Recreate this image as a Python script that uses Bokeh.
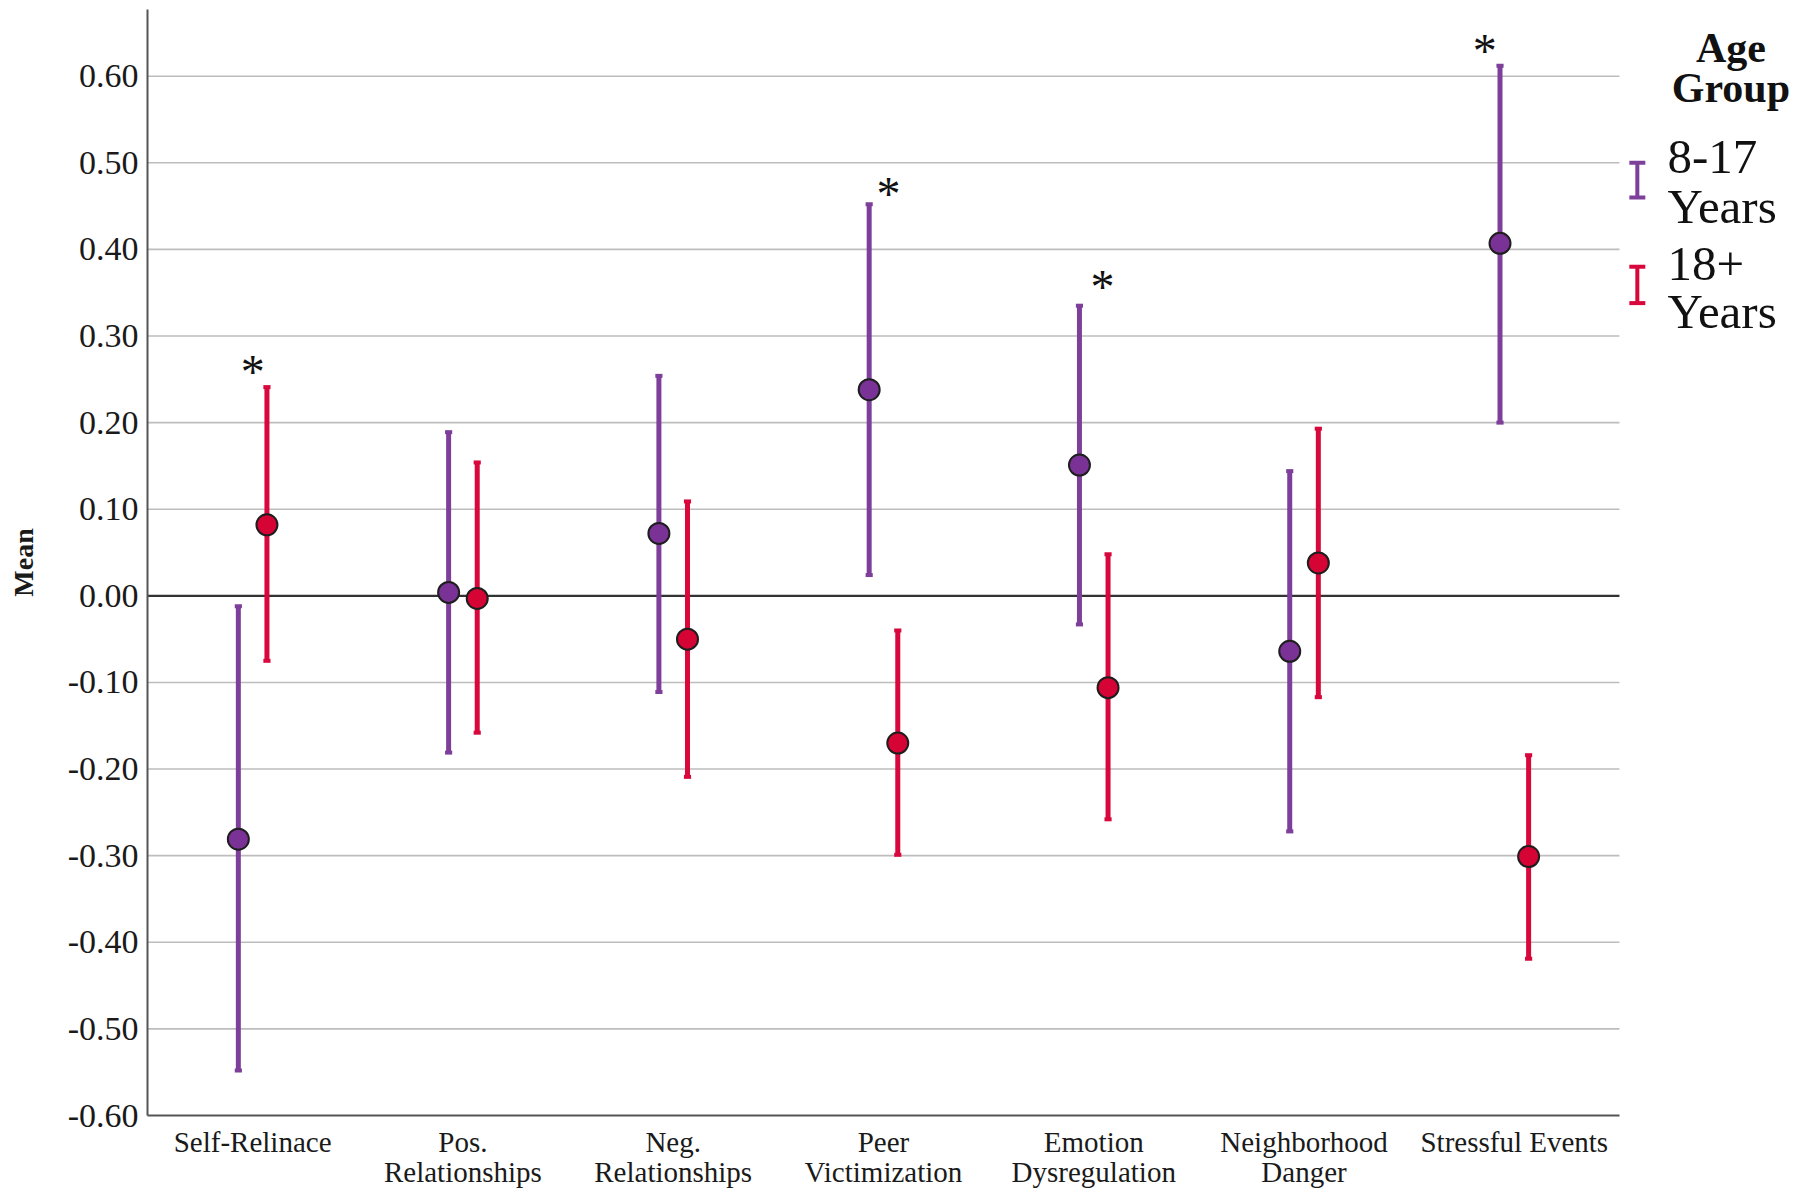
from bokeh.plotting import figure
from bokeh.models import Range1d, FixedTicker
from bokeh.core.properties import value
from bokeh.embed import file_html
from bokeh.resources import INLINE

# ---------------- data ----------------
categories = ["Self-Relinace", "Pos.\nRelationships", "Neg.\nRelationships",
              "Peer\nVictimization", "Emotion\nDysregulation", "Neighborhood\nDanger",
              "Stressful Events"]
groups = ["8-17\nYears", "18+\nYears"]

mean_young = [-0.281, 0.004, 0.072, 0.238, 0.151, -0.064, 0.407]
lower_young = [-0.548, -0.181, -0.111, 0.024, -0.033, -0.272, 0.200]
upper_young = [-0.012, 0.189, 0.254, 0.452, 0.335, 0.144, 0.612]

mean_adult = [0.082, -0.003, -0.050, -0.170, -0.106, 0.038, -0.301]
lower_adult = [-0.075, -0.158, -0.209, -0.299, -0.258, -0.117, -0.419]
upper_adult = [0.241, 0.154, 0.109, -0.040, 0.048, 0.193, -0.184]

# significance markers: category index, x offset, y value
sig_index = [0, 3, 4, 6]
sig_offset = [0.0, 0.024, 0.041, -0.14]
sig_y = [0.266, 0.472, 0.364, 0.637]

y_ticks = [-0.6, -0.5, -0.4, -0.3, -0.2, -0.1, 0.0, 0.1, 0.2, 0.3, 0.4, 0.5, 0.6]
y_tick_labels = ["-0.60", "-0.50", "-0.40", "-0.30", "-0.20", "-0.10", "0.00",
                 "0.10", "0.20", "0.30", "0.40", "0.50", "0.60"]

# ---------------- style ----------------
PURPLE_LINE = "#7E3F9B"
PURPLE_FILL = "#7A3296"
RED_LINE = "#D8073C"
RED_FILL = "#D60335"
SERIF = "Liberation Serif"
DODGE = 0.068
CAP = 0.017

n = len(categories)

p = figure(width=1800, height=1190, x_range=Range1d(0, 7.861), y_range=Range1d(-0.6, 0.677),
           output_backend="svg", toolbar_location=None,
           min_border_left=147, min_border_right=0, min_border_top=9, min_border_bottom=74)
p.outline_line_color = None
p.xgrid.visible = False
p.ygrid.visible = False
p.background_fill_color = "white"
p.border_fill_color = "white"

# y axis
p.yaxis.ticker = FixedTicker(ticks=y_ticks)
p.yaxis.major_label_overrides = {t: l for t, l in zip(y_ticks, y_tick_labels)}
p.yaxis.axis_line_color = "#555555"
p.yaxis.axis_line_width = 2
p.yaxis.major_tick_line_color = None
p.yaxis.minor_tick_line_color = None
p.yaxis.major_label_text_font = SERIF
p.yaxis.major_label_text_font_size = "34px"
p.yaxis.major_label_text_color = "#1a1a1a"
p.yaxis.major_label_standoff = 3
p.yaxis.axis_label = "Mean"
p.yaxis.axis_label_text_font = SERIF
p.yaxis.axis_label_text_font_style = "bold"
p.yaxis.axis_label_text_font_size = "28px"
p.yaxis.axis_label_text_color = "#1a1a1a"
p.yaxis.axis_label_standoff = 26

# x axis
x_ticks = [i + 0.5 for i in range(n)]
p.xaxis.ticker = FixedTicker(ticks=x_ticks)
p.xaxis.major_label_overrides = {t: c for t, c in zip(x_ticks, categories)}
p.xaxis.bounds = (0, n)
p.xaxis.axis_line_color = "#555555"
p.xaxis.axis_line_width = 2
p.xaxis.major_tick_line_color = None
p.xaxis.minor_tick_line_color = None
p.xaxis.major_label_text_font = SERIF
p.xaxis.major_label_text_font_size = "29px"
p.xaxis.major_label_text_color = "#1a1a1a"
p.xaxis.major_label_text_line_height = 0.95
p.xaxis.major_label_standoff = 4

# horizontal grid lines limited to the category area
grid_y = [t for t in y_ticks if t != 0.0 and t != y_ticks[0]]
p.segment(x0=[0] * len(grid_y), x1=[n] * len(grid_y), y0=grid_y, y1=grid_y,
          line_color="#BDBDBD", line_width=1.6)
p.segment(x0=[0], x1=[n], y0=[0.0], y1=[0.0], line_color="#333333", line_width=2.2)


def draw_series(means, lows, highs, offset, line_color, fill_color):
    xs = [i + 0.5 + offset for i in range(n)]
    p.segment(x0=xs, x1=xs, y0=lows, y1=highs, line_color=line_color, line_width=5)
    p.segment(x0=[x - CAP for x in xs], x1=[x + CAP for x in xs], y0=highs, y1=highs,
              line_color=line_color, line_width=4)
    p.segment(x0=[x - CAP for x in xs], x1=[x + CAP for x in xs], y0=lows, y1=lows,
              line_color=line_color, line_width=4)
    p.scatter(x=xs, y=means, size=21, marker="circle", fill_color=fill_color,
              line_color="#1e1e1e", line_width=2)


draw_series(mean_young, lower_young, upper_young, -DODGE, PURPLE_LINE, PURPLE_FILL)
draw_series(mean_adult, lower_adult, upper_adult, DODGE, RED_LINE, RED_FILL)

# significance asterisks
p.text(x=[sig_index[k] + 0.5 + sig_offset[k] for k in range(len(sig_index))], y=sig_y,
       text=["*"] * len(sig_index), text_font=value(SERIF), text_font_size="48px",
       text_align="center", text_baseline="middle", y_offset=6, text_color="#111111")

# legend (drawn in the frame to the right of the categories)
p.text(x=[7.53, 7.53], y=[0.632, 0.586], text=["Age", "Group"], text_font=value(SERIF),
       text_font_style="bold", text_font_size="42px", text_align="center",
       text_baseline="middle", text_color="#111111")
leg_x = 7.085
leg_cap = 0.038
leg_tops = [0.500, 0.380]
leg_bots = [0.460, 0.338]
leg_colors = [PURPLE_LINE, RED_LINE]
p.segment(x0=[leg_x] * 2, x1=[leg_x] * 2, y0=leg_bots, y1=leg_tops,
          line_color=leg_colors, line_width=4)
p.segment(x0=[leg_x - leg_cap] * 2, x1=[leg_x + leg_cap] * 2, y0=leg_tops, y1=leg_tops,
          line_color=leg_colors, line_width=4)
p.segment(x0=[leg_x - leg_cap] * 2, x1=[leg_x + leg_cap] * 2, y0=leg_bots, y1=leg_bots,
          line_color=leg_colors, line_width=4)
leg_lines = []
for g in groups:
    leg_lines.extend(g.split("\n"))
p.text(x=[7.228] * 4, y=[0.507, 0.449, 0.383, 0.328], text=leg_lines,
       text_font=value(SERIF), text_font_size="49px", text_align="left",
       text_baseline="middle", text_color="#111111")

open("out.html", "w").write(file_html(p, INLINE))
